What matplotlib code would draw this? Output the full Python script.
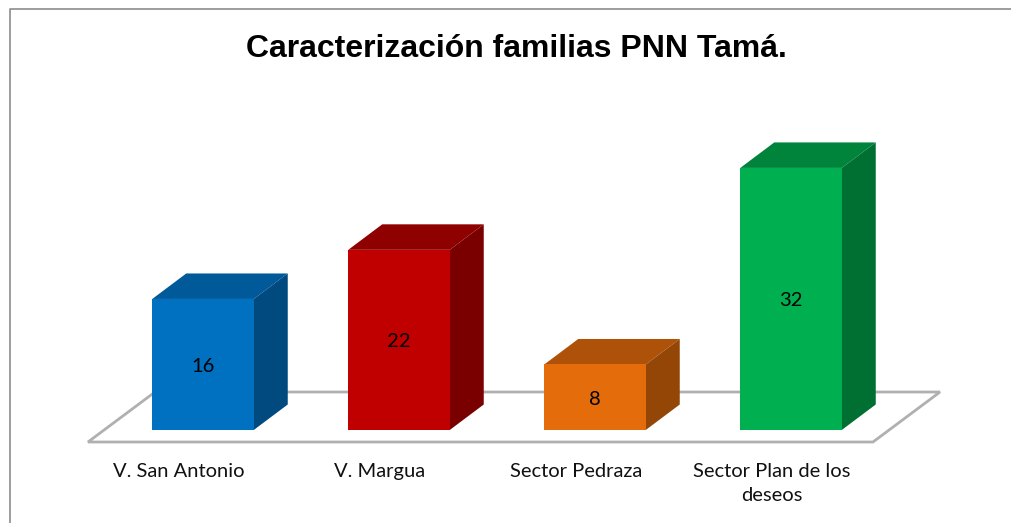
# Caracterización familias PNN Tamá - barras con efecto 3D
import matplotlib.pyplot as plt
from matplotlib.lines import Line2D
from matplotlib.patches import Polygon

categorias = ['V. San Antonio', 'V. Margua', 'Sector Pedraza', 'Sector Plan de los\ndeseos']
familias = [16, 22, 8, 32]
col_frente = ['#0070c0', '#c00000', '#e46c0a', '#00b050']
col_arriba = ['#005a9a', '#8f0000', '#ad5208', '#00843c']
col_lado = ['#004a80', '#7a0000', '#944607', '#006f32']
corr_etq = [-24, -19, -19, -19]  # corrimiento de etiquetas, px

W, H = 1011, 523
px_x = 196.0   # pixeles entre barras
px_y = 8.19    # pixeles por familia
x0, y0 = 203.0, 430.0
ancho = 101.5 / px_x
dx = 34 / px_x
dy = 25.5 / px_y

fig = plt.figure(figsize=(W / 100, H / 100), dpi=100, facecolor='white')
ax = fig.add_axes([0, 0, 1, 1])
ax.set_xlim(-x0 / px_x, (W - x0) / px_x)
ax.set_ylim(-(H - y0) / px_y, y0 / px_y)
ax.axis('off')

# piso
fx0, fx1 = (88 - x0) / px_x, (873 - x0) / px_x
fy0, fy1 = -12 / px_y, 38 / px_y
fdx = 67 / px_x
ax.add_patch(Polygon([(fx0, fy0), (fx1, fy0), (fx1 + fdx, fy1), (fx0 + fdx, fy1)],
                     closed=True, fc='white', ec='#b0b0b0', lw=2, zorder=1))

# barras
xs = range(len(familias))
ax.bar(xs, familias, width=ancho, color=col_frente, zorder=3)
for i, v in zip(xs, familias):
    l, r = i - ancho / 2, i + ancho / 2
    ax.add_patch(Polygon([(l, v), (r, v), (r + dx, v + dy), (l + dx, v + dy)],
                         closed=True, fc=col_arriba[i], ec='none', zorder=2))
    ax.add_patch(Polygon([(r, 0), (r + dx, dy), (r + dx, v + dy), (r, v)],
                         closed=True, fc=col_lado[i], ec='none', zorder=2))
    ax.text(i, v / 2 - 2 / px_y, str(v), ha='center', va='center', fontsize=14.5,
            family='Lato', color='black', zorder=4)

# etiquetas de categorias
for i, nombre in zip(xs, categorias):
    ax.text(i + corr_etq[i] / px_x, -33 / px_y, nombre, ha='center', va='top', fontsize=14.5,
            family='Lato', color='#111111', linespacing=1.5, zorder=4)

ax.text(0.5105, 0.906, 'Caracterización familias PNN Tamá.', transform=ax.transAxes,
        ha='center', va='center', fontsize=23, fontweight='bold',
        family='Liberation Sans', color='black')

# marco
fig.add_artist(Line2D([9.5 / W, 9.5 / W, 1], [0, 1 - 8.5 / H, 1 - 8.5 / H],
                      color='#8c8c8c', lw=1.2))

fig.savefig('out.png', dpi=100)
